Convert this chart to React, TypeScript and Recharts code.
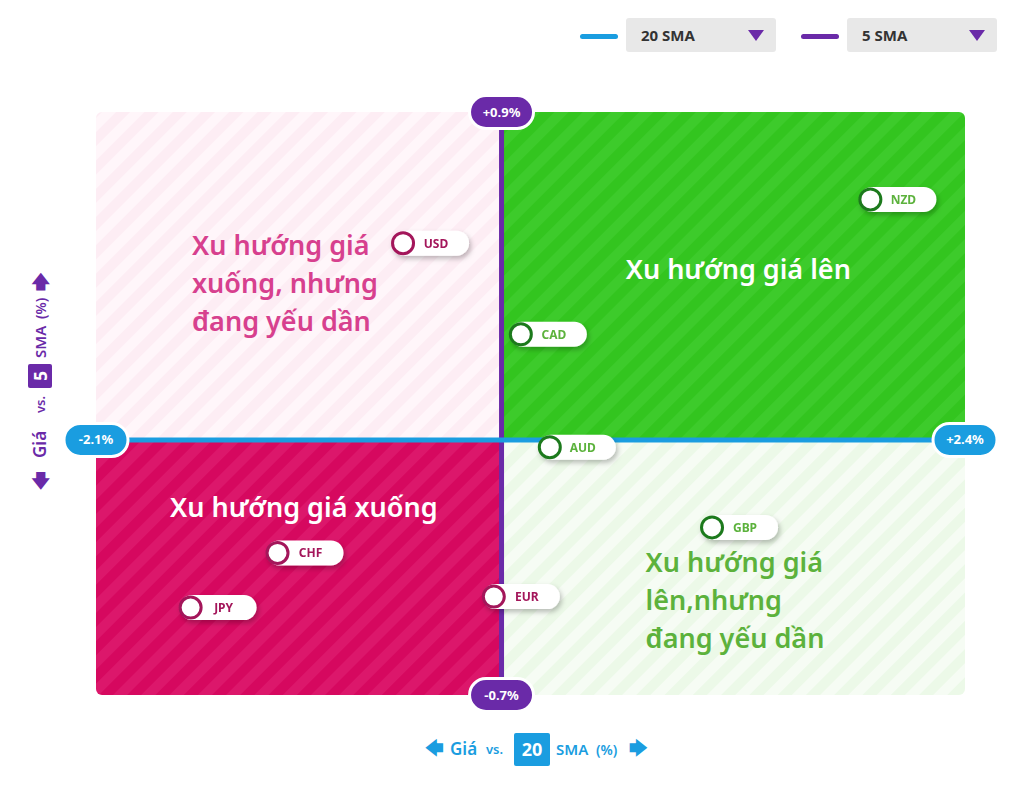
import React from "react";
import {
  ScatterChart,
  Scatter,
  XAxis,
  YAxis,
  ReferenceArea,
  ReferenceLine,
  ReferenceDot,
  Rectangle,
} from "recharts";

// currencies and their % distance from the 20 SMA (x) and 5 SMA (y)
const currencies = ["NZD", "USD", "CAD", "AUD", "GBP", "CHF", "JPY", "EUR"];
const vs20 = [1.91, -0.51, 0.1, 0.25, 1.09, -1.16, -1.61, -0.04];
const vs5 = [0.66, 0.54, 0.29, -0.02, -0.24, -0.31, -0.46, -0.43];

const xDomain = [-2.1, 2.4];
const yDomain = [-0.7, 0.9];
const xTickLabels = ["-2.1%", "+2.4%"];
const yTickLabels = ["-0.7%", "+0.9%"];

const FONT = "'Noto Sans', sans-serif";
const BLUE = "#1a9de0";
const PURPLE = "#6a2aa8";
const PINK_DARK = "#a3155a";
const GREEN_DARK = "#1f7a1f";
const GREEN_TEXT = "#5cb23c";

const points = currencies.map((name, i) => ({ name, x: vs20[i], y: vs5[i] }));
const greenSet = points.filter((p) => p.x > 0);
const pinkSet = points.filter((p) => !(p.x > 0));

function Pill(props: any) {
  const { cx, cy, payload, ring, textColor } = props;
  if (cx == null || cy == null) return null;
  return (
    <g filter="url(#pillShadow)">
      <rect x={cx - 11} y={cy - 12.5} width={77} height={25} rx={12.5} fill="#ffffff" />
      <circle cx={cx} cy={cy} r={10.5} fill="#ffffff" stroke={ring} strokeWidth={3} />
      <text
        x={cx + 33}
        y={cy + 4.5}
        textAnchor="middle"
        fontFamily={FONT}
        fontWeight={700}
        fontSize={12}
        fill={textColor}
      >
        {payload.name}
      </text>
    </g>
  );
}

function EndLabel(props: any) {
  const { cx, cy, fill, text } = props;
  return (
    <g>
      <rect x={cx - 32} y={cy - 16.5} width={64} height={33} rx={16.5} fill={fill} stroke="#ffffff" strokeWidth={3} />
      <text x={cx} y={cy + 4.5} textAnchor="middle" fontFamily={FONT} fontWeight={700} fontSize={13} fill="#ffffff">
        {text}
      </text>
    </g>
  );
}

const capStyle = { fontFamily: FONT, fontWeight: 600, fontSize: 27 };

function quad(fill: string, radius: number[], caption: (x: number, y: number, w: number, h: number) => React.ReactNode) {
  return (p: any) => (
    <g>
      <Rectangle {...p} fill={fill} fillOpacity={1} stroke="none" radius={radius} />
      {caption(p.x, p.y, p.width, p.height)}
    </g>
  );
}

const capTL = (x: number, y: number) => (
  <text {...capStyle} fill="#d7408e">
    <tspan x={x + 96} y={y + 143}>Xu hướng giá</tspan>
    <tspan x={x + 96} y={y + 181}>xuống, nhưng</tspan>
    <tspan x={x + 96} y={y + 219}>đang yếu dần</tspan>
  </text>
);
const capTR = (x: number, y: number, w: number) => (
  <text {...capStyle} x={x + w / 2 + 5} y={y + 167} textAnchor="middle" fill="#ffffff">
    Xu hướng giá lên
  </text>
);
const capBL = (x: number, y: number, w: number) => (
  <text {...capStyle} x={x + w / 2 + 5} y={y + 77} textAnchor="middle" fill="#ffffff">
    Xu hướng giá xuống
  </text>
);
const capBR = (x: number, y: number) => (
  <text {...capStyle} fill={GREEN_TEXT}>
    <tspan x={x + 144} y={y + 132}>Xu hướng giá</tspan>
    <tspan x={x + 144} y={y + 170}>lên,nhưng</tspan>
    <tspan x={x + 144} y={y + 208}>đang yếu dần</tspan>
  </text>
);

const caret = (
  <span
    style={{
      width: 0,
      height: 0,
      borderLeft: "8px solid transparent",
      borderRight: "8px solid transparent",
      borderTop: "11px solid " + PURPLE,
    }}
  />
);

export default function App() {
  return (
    <div style={{ position: "relative", width: 1013, height: 779, fontFamily: FONT }}>
      {/* series selectors */}
      <div style={{ position: "absolute", left: 572, top: 26, width: 38, height: 5, borderRadius: 3, background: BLUE }} />
      <div style={selectStyle(618)}>
        <span>20 SMA</span>
        {caret}
      </div>
      <div style={{ position: "absolute", left: 793, top: 26, width: 38, height: 5, borderRadius: 3, background: PURPLE }} />
      <div style={selectStyle(839)}>
        <span>5 SMA</span>
        {caret}
      </div>

      <ScatterChart width={1013} height={779} margin={{ top: 104, right: 56, bottom: 92, left: 88 }}>
        <defs>
          <pattern id="stripeLP" width="20" height="20" patternUnits="userSpaceOnUse" patternTransform="rotate(45)">
            <rect width="20" height="20" fill="#fdedf4" />
            <rect width="10" height="20" fill="#fff6fa" />
          </pattern>
          <pattern id="stripeG" width="20" height="20" patternUnits="userSpaceOnUse" patternTransform="rotate(45)">
            <rect width="20" height="20" fill="#33c51f" />
            <rect width="10" height="20" fill="#3dcb2b" />
          </pattern>
          <pattern id="stripeM" width="20" height="20" patternUnits="userSpaceOnUse" patternTransform="rotate(45)">
            <rect width="20" height="20" fill="#d6085f" />
            <rect width="10" height="20" fill="#dc176b" />
          </pattern>
          <pattern id="stripeLG" width="20" height="20" patternUnits="userSpaceOnUse" patternTransform="rotate(45)">
            <rect width="20" height="20" fill="#ecf9e8" />
            <rect width="10" height="20" fill="#f6fcf4" />
          </pattern>
          <filter id="pillShadow" x="-30%" y="-50%" width="160%" height="220%">
            <feDropShadow dx="2" dy="3" stdDeviation="2.5" floodColor="#000000" floodOpacity="0.25" />
          </filter>
        </defs>
        <XAxis type="number" dataKey="x" domain={xDomain} hide />
        <YAxis type="number" dataKey="y" domain={yDomain} hide />

        <ReferenceArea x1={xDomain[0]} x2={0} y1={0} y2={yDomain[1]} shape={quad("url(#stripeLP)", [6, 0, 0, 0], capTL)} />
        <ReferenceArea x1={0} x2={xDomain[1]} y1={0} y2={yDomain[1]} shape={quad("url(#stripeG)", [0, 6, 0, 0], capTR)} />
        <ReferenceArea x1={xDomain[0]} x2={0} y1={yDomain[0]} y2={0} shape={quad("url(#stripeM)", [0, 0, 0, 6], capBL)} />
        <ReferenceArea x1={0} x2={xDomain[1]} y1={yDomain[0]} y2={0} shape={quad("url(#stripeLG)", [0, 0, 6, 0], capBR)} />

        <ReferenceLine x={0} stroke={PURPLE} strokeWidth={5} />
        <ReferenceLine y={0} stroke={BLUE} strokeWidth={5} />

        <Scatter
          data={pinkSet}
          isAnimationActive={false}
          shape={(p: any) => <Pill {...p} ring={PINK_DARK} textColor={PINK_DARK} />}
        />
        <Scatter
          data={greenSet}
          isAnimationActive={false}
          shape={(p: any) => <Pill {...p} ring={GREEN_DARK} textColor={GREEN_TEXT} />}
        />

        <ReferenceDot x={xDomain[0]} y={0} ifOverflow="visible" shape={(p: any) => <EndLabel {...p} fill={BLUE} text={xTickLabels[0]} />} />
        <ReferenceDot x={xDomain[1]} y={0} ifOverflow="visible" shape={(p: any) => <EndLabel {...p} fill={BLUE} text={xTickLabels[1]} />} />
        <ReferenceDot x={0} y={yDomain[1]} ifOverflow="visible" shape={(p: any) => <EndLabel {...p} fill={PURPLE} text={yTickLabels[1]} />} />
        <ReferenceDot x={0} y={yDomain[0]} ifOverflow="visible" shape={(p: any) => <EndLabel {...p} fill={PURPLE} text={yTickLabels[0]} />} />

        {/* axis titles */}
        <g fontFamily={FONT} fontWeight={600}>
          <text x={426} y={746} fontSize={18} fill={BLUE} textAnchor="middle">🡄</text>
          <text x={442} y={747} fontSize={17} fill={BLUE}>Giá</text>
          <text x={478} y={746} fontSize={13} fill={BLUE}>vs.</text>
          <rect x={506} y={725} width={36} height={33} rx={2} fill={BLUE} />
          <text x={524} y={748} fontSize={18} fontWeight={700} fill="#ffffff" textAnchor="middle">20</text>
          <text x={548} y={747} fontSize={15} fill={BLUE}>SMA</text>
          <text x={588} y={747} fontSize={14} fill={BLUE}>(%)</text>
          <text x={630} y={746} fontSize={18} fill={BLUE} textAnchor="middle">🡆</text>
        </g>
        <g fontFamily={FONT} fontWeight={600} transform="translate(32 368) rotate(-90)">
          <text x={-104} y={0} fontSize={18} fill={PURPLE} textAnchor="middle" dominantBaseline="central">🡄</text>
          <text x={-82} y={6} fontSize={17} fill={PURPLE}>Giá</text>
          <text x={-37} y={5} fontSize={13} fill={PURPLE}>vs.</text>
          <rect x={-12} y={-12} width={24} height={24} rx={2} fill={PURPLE} />
          <text x={0} y={7} fontSize={17} fontWeight={700} fill="#ffffff" textAnchor="middle">5</text>
          <text x={18} y={6} fontSize={15} fill={PURPLE}>SMA</text>
          <text x={57} y={6} fontSize={14} fill={PURPLE}>(%)</text>
          <text x={95} y={0} fontSize={18} fill={PURPLE} textAnchor="middle" dominantBaseline="central">🡆</text>
        </g>
      </ScatterChart>
    </div>
  );
}

function selectStyle(left: number): React.CSSProperties {
  return {
    position: "absolute",
    left,
    top: 10,
    width: 150,
    height: 34,
    boxSizing: "border-box",
    padding: "0 12px 0 15px",
    background: "#e8e8e8",
    borderRadius: 3,
    display: "flex",
    alignItems: "center",
    justifyContent: "space-between",
    fontFamily: FONT,
    fontWeight: 700,
    fontSize: 15,
    color: "#333333",
    zIndex: 1,
  };
}
